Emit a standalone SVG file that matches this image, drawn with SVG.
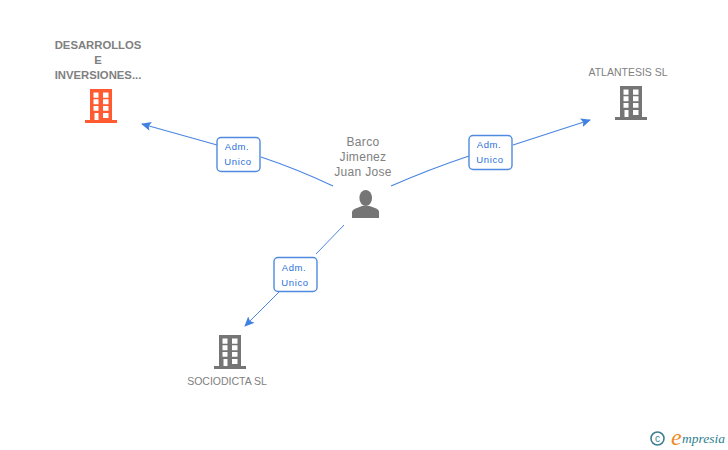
<svg xmlns="http://www.w3.org/2000/svg" width="728" height="450" viewBox="0 0 728 450">
<style>
text{font-family:"Liberation Sans",Arial,sans-serif}
.n{font-size:10.500px;fill:#808080;text-anchor:middle}
.b{font-weight:bold;font-size:11.300px}
.p{font-size:12px;fill:#808080;text-anchor:middle;letter-spacing:.3px}
.l{font-size:9.500px;fill:#2a70dc;text-anchor:middle;letter-spacing:.6px}
.c{fill:none;stroke:#4a86e0;stroke-width:1.200}
.t{stroke-width:1}
.box{fill:#fff;stroke:#4f8ae0;stroke-width:1.400}
.s{font-family:"Liberation Serif",serif;font-style:italic}
</style>
<defs>
<marker id="a" markerWidth="12" markerHeight="10" refX="9" refY="4.500" orient="auto" markerUnits="userSpaceOnUse"><path d="M0 0L10 4.500L0 9L2 4.500Z" fill="#3f80e0"/></marker>
<g id="bld">
<path fill-rule="evenodd" d="M5 0H27V31H32V34H0V31H5ZM8.500 3.500V8.700H13.500V3.500ZM18 3.500V8.700H23.500V3.500ZM8.500 10.300V15.200H13.500V10.300ZM18 10.300V15.200H23.500V10.300ZM8.500 17V21.700H13.500V17ZM18 17V21.700H23.500V17ZM9.500 24V31H13.500V24ZM18 24V29H23.500V24Z"/>
</g>
</defs>
<g id="connectors">
<path class="c" d="M333 186Q297 169 261 157M217 145L142 124" marker-end="url(#a)"/>
<path class="c" d="M391 186Q430 169 469 156M513 145L590 120" marker-end="url(#a)"/>
<path class="c t" d="M344 225L316 254M279 292L245 326" marker-end="url(#a)"/>
</g>
<g id="node-desarrollos">
<text class="n b" x="98" y="49">DESARROLLOS</text>
<text class="n b" x="98" y="64">E</text>
<text class="n b" x="98" y="79">INVERSIONES...</text>
<use href="#bld" x="85" y="89" fill="#ff5a30"/>
</g>
<g id="node-atlantesis">
<text class="n" x="628" y="76">ATLANTESIS SL</text>
<use href="#bld" x="615" y="86" fill="#757575"/>
</g>
<g id="node-sociodicta">
<use href="#bld" x="214" y="335" fill="#757575"/>
<text class="n" x="227" y="385">SOCIODICTA SL</text>
</g>
<g id="node-barco">
<text class="p" x="363" y="146">Barco</text>
<text class="p" x="363" y="161">Jimenez</text>
<text class="p" x="363" y="176">Juan Jose</text>
<ellipse cx="365.700" cy="198" rx="6.300" ry="8" fill="#757575"/>
<path fill="#757575" d="M352 218V212Q352.500 209.500 357 208L362 206H369.500L375 208Q379 209.500 379 212V218Z"/>
</g>
<g id="label-1">
<rect class="box" x="217" y="137.500" width="43" height="34" rx="4"/>
<text class="l" x="237" y="150">Adm.</text>
<text class="l" x="238" y="165">Unico</text>
</g>
<g id="label-2">
<rect class="box" x="469" y="135.500" width="43" height="34" rx="4"/>
<text class="l" x="489" y="148">Adm.</text>
<text class="l" x="490" y="163">Unico</text>
</g>
<g id="label-3">
<rect class="box" x="274" y="257.500" width="43" height="34" rx="4"/>
<text class="l" x="294" y="271">Adm.</text>
<text class="l" x="295" y="286">Unico</text>
</g>
<g id="logo">
<circle cx="657.500" cy="438.500" r="6.500" fill="none" stroke="#3f7f92" stroke-width="1.600"/>
<text x="657.500" y="442" font-size="10" fill="#3f7f92" text-anchor="middle">c</text>
<text class="s" x="671" y="445" font-size="24" fill="#f08a1d">e</text>
<text class="s" x="682" y="443" font-size="13.500" fill="#2f7f8f">mpresia</text>
</g>
</svg>
